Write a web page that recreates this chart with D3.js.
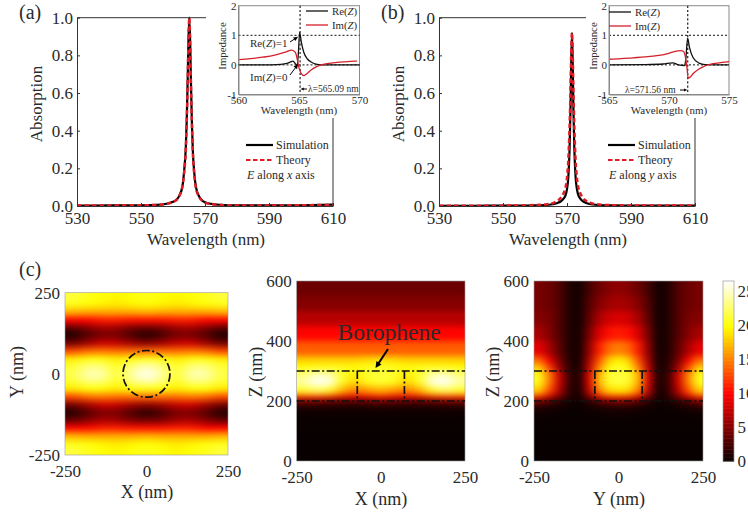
<!DOCTYPE html>
<html>
<head>
<meta charset="utf-8">
<script src="https://cdn.jsdelivr.net/npm/d3@7"></script>
<style>
  html, body { margin: 0; padding: 0; background: #fff; overflow: hidden; }
  text { font-family: "Liberation Serif", serif; fill: #2a2a2a; }
</style>
</head>
<body>
<svg id="fig" width="748" height="512"></svg>
<script>
// main absorption spectra
const wlA = [530,540,550,555,558,560,561,562,563,563.5,564,564.3,564.6,564.8,565.09,565.38,565.58,565.88,566.18,566.68,567.18,568.18,569.18,570,572,575,580,590,600,610];
const simA = [.002,.003,.004,.006,.012,.022,.032,.055,.11,.19,.31,.46,.68,.86,1,.86,.68,.46,.3,.17,.1,.05,.028,.02,.011,.006,.003,.003,.004,.007];
const theoryA = [.002,.003,.004,.006,.011,.021,.031,.054,.11,.18,.3,.45,.67,.85,1,.85,.67,.45,.29,.16,.095,.048,.027,.018,.01,.005,.003,.003,.004,.006];
const wlB = [530,540,550,555,560,563,565,566,567,568,569,569.5,570,570.4,570.8,571.1,571.3,571.56,571.8,572,572.3,572.7,573.1,573.6,574.1,575,576,577,578,580,585,590,600,610];
const simB = [.001,.001,.002,.002,.003,.005,.008,.011,.016,.024,.04,.055,.09,.15,.3,.52,.74,.92,.74,.52,.3,.15,.09,.055,.04,.024,.016,.011,.008,.005,.003,.002,.002,.002];
const theoryB = [.001,.001,.002,.003,.005,.008,.013,.018,.027,.042,.07,.095,.15,.24,.42,.62,.8,.92,.8,.62,.42,.24,.15,.095,.07,.042,.027,.018,.013,.008,.004,.003,.002,.002];

// inset impedance curves
const reWlA = [560,562,563.5,564,564.3,564.5,564.7,564.85,564.95,565.05,565.2,565.4,565.7,566,566.5,567,570];
const reZA = [0,0,.02,.05,.1,.13,.04,-.02,.4,1.1,.75,.42,.2,.1,.02,0,0];
const imWlA = [560,561,562,563,564,564.4,564.7,564.9,565,565.2,565.4,565.7,566,566.5,567,568,569,569.8];
const imZA = [.18,.21,.26,.33,.45,.5,.42,.1,-.1,-.3,-.36,-.28,-.17,-.05,.02,.08,.11,.13];
const reWlB = [565,568,569.5,570.3,570.8,571.3,571.4,571.55,571.7,572,572.5,573,575];
const reZB = [0,.01,.03,.07,0,-.02,.2,.9,.6,.25,.06,.01,0];
const imWlB = [565,566,567,568,569,570,570.5,571,571.2,571.35,571.5,571.6,571.8,572,572.5,573,573.5,574,575];
const imZB = [.19,.21,.24,.27,.31,.39,.46,.48,.46,.3,-.1,-.45,-.4,-.3,-.14,-.03,.03,.06,.11];

// |E| maps, left half of each row (the maps are mirror symmetric)
const fieldXY = [
  [21.5,20.5,20,19.5,20,20.5],
  [20.5,20,19.5,19,19.5,20],
  [17,16.5,16.5,16.5,16.5,17],
  [10,10,11,11,10.5,10.5],
  [3.5,5,6.5,6,4.5,4],
  [.8,3,4.5,4.5,2.5,1],
  [4,6,8,7.5,6,5],
  [12.5,14,14.5,14,14,14],
  [19,20,20,19,20,20.5],
  [21,23,23,20.5,23,24.5],
  [21.5,24.5,24.5,21,24,26.5]
];
const zEdges = [600,550,500,450,400,350,325,300,275,250,225,212,200,188,175,150,100,0];
const fieldXZ = [
  [4,4,4,4,4,4,4],
  [5,5,5,5,5,5,5],
  [7,7,7,7,7,7,7],
  [10,10,10,10,10,10,10],
  [13.5,13.5,13.5,13.5,13.5,13.5,13.5],
  [18,18,18,18,18,18.5,19],
  [20,20.5,20.5,20.5,20,20.5,21],
  [23,25,24.5,21,19,21,21.5],
  [24,27,26,20.5,18,20.5,21],
  [21,22.5,21,17,15,16,17],
  [14,14.5,13.5,11,10,10.5,12],
  [8,8,7,6,6,6.5,7.5],
  [2.5,2.5,2.2,2,2,2.2,2.5],
  [1,1,.9,.8,.8,.9,1],
  [.3,.3,.3,.3,.3,.3,.3],
  [.1,.1,.1,.1,.1,.1,.1],
  [0,0,0,0,0,0,0]
];
const fieldYZ = [
  [4.5,4,3,1,.4,2.5,4,5,5.5],
  [4.5,4,3,1,.4,3,5,6,6.5],
  [5,4.5,3,1,.4,3.5,6.5,8,8.5],
  [6.5,5,3,1,.4,4.5,8.5,10.5,11],
  [9,6.5,3.5,1,.4,5.5,11,14,15],
  [14,9.5,4.5,1.2,.4,6.5,13,18,19.5],
  [18,12.5,6,1.5,.5,7.5,15,20,21],
  [20.5,15,8,2,.6,8.5,17,21,21.5],
  [20.5,15,8,2,.6,8.5,17,21,21.5],
  [18,13,7,1.8,.5,7.5,15,18.5,19],
  [13,9,5,1.5,.4,5,10.5,13,13.5],
  [7.5,5,2.8,.9,.3,2.8,5.5,7.5,8],
  [3,2,1,.4,.2,1,2,3,3],
  [1.2,.8,.5,.2,.1,.5,.8,1.2,1.2],
  [.4,.3,.2,.1,.1,.2,.3,.4,.4],
  [.1,.1,.1,.1,.1,.1,.1,.1,.1],
  [0,0,0,0,0,0,0,0,0]
];
const colorTicks = [0,5,10,15,20,25];
const colorMax = 26.4;

const mirror = row => [...row, ...row.slice(0, -1).reverse()];
const hot = d3.scaleLinear()
  .domain([0, .375 * colorMax, .75 * colorMax, colorMax])
  .range(["#080000", "#ff0000", "#ffff00", "#ffffff"])
  .clamp(true);

const svg = d3.select("#fig");
const defs = svg.append("defs");
const INK = "#2a2a2a";

function addText(g, x, y, parts, size, opts = {}) {
  const t = g.append("text").attr("x", x).attr("y", y)
    .attr("font-size", size)
    .attr("text-anchor", opts.anchor || "start");
  if (opts.rotate) t.attr("transform", `rotate(-90 ${x} ${y})`);
  [].concat(parts).forEach(p => {
    if (typeof p === "string") t.append("tspan").text(p);
    else t.append("tspan").attr("font-style", "italic").text(p.i);
  });
  return t;
}

function addArrow(g, x1, y1, x2, y2, w, head) {
  const a = Math.atan2(y2 - y1, x2 - x1);
  g.append("line").attr("x1", x1).attr("y1", y1)
    .attr("x2", x2 - Math.cos(a) * head * .7).attr("y2", y2 - Math.sin(a) * head * .7)
    .attr("stroke", "#000").attr("stroke-width", w);
  const p = s => [x2 - Math.cos(a + s) * head, y2 - Math.sin(a + s) * head];
  g.append("path")
    .attr("d", `M${x2},${y2}L${p(.45)}L${p(-.45)}Z`)
    .attr("fill", "#000");
}

function styleAxis(sel, size, color) {
  sel.selectAll(".domain").attr("stroke", color);
  sel.selectAll(".tick line").attr("stroke", color);
  sel.selectAll("text").attr("font-size", size).attr("font-family", null).attr("fill", INK);
}

function spectrum(opt) {
  const g = svg.append("g");
  const x = d3.scaleLinear().domain([530, 610]).range(opt.xr);
  const y = d3.scaleLinear().domain([0, 1]).range([206, 17.7]);
  const line = xs => d3.line().x((d, i) => x(xs[i])).y(d => y(d)).curve(d3.curveMonotoneX);

  g.append("path").attr("d", line(opt.wl)(opt.sim)).attr("fill", "none")
    .attr("stroke", "#000").attr("stroke-width", 2.2);
  g.append("path").attr("d", line(opt.wl)(opt.theory)).attr("fill", "none")
    .attr("stroke", "#e01b24").attr("stroke-width", 2.5).attr("stroke-dasharray", "4.5 3");

  g.append("g").attr("transform", "translate(0,206)")
    .call(d3.axisBottom(x).tickValues([530,550,570,590,610]).tickSizeInner(-3).tickSizeOuter(0).tickPadding(6))
    .call(styleAxis, 17, "#333");
  g.append("g").attr("transform", `translate(${opt.xr[0]},0)`)
    .call(d3.axisLeft(y).tickValues([0,.2,.4,.6,.8,1]).tickFormat(d3.format(".1f")).tickSizeInner(-3).tickSizeOuter(0).tickPadding(4))
    .call(styleAxis, 17, "#333");
  g.append("line").attr("x1", opt.xr[0]).attr("x2", opt.xr[1]).attr("y1", 17.7).attr("y2", 17.7).attr("stroke", "#333");
  g.append("line").attr("x1", opt.xr[1]).attr("x2", opt.xr[1]).attr("y1", 17.7).attr("y2", 206).attr("stroke", "#333");

  addText(g, (opt.xr[0] + opt.xr[1]) / 2 + 1, 245, "Wavelength (nm)", 17, { anchor: "middle" });
  addText(g, opt.xr[0] - 35, 104, "Absorption", 17, { anchor: "middle", rotate: true });
  addText(g, opt.tagX, 19, opt.tag, 20);

  // legend
  const lx = opt.legendX;
  g.append("line").attr("x1", lx).attr("x2", lx + 27).attr("y1", 145).attr("y2", 145)
    .attr("stroke", "#000").attr("stroke-width", 2.2);
  g.append("line").attr("x1", lx).attr("x2", lx + 27).attr("y1", 160).attr("y2", 160)
    .attr("stroke", "#e01b24").attr("stroke-width", 2.2).attr("stroke-dasharray", "4.5 2.5");
  addText(g, lx + 30, 149, "Simulation", 12);
  addText(g, lx + 30, 164, "Theory", 12);
  addText(g, lx + 1, 179, [{ i: "E" }, " along ", { i: opt.axisName }, " axis"], 12);

  // inset
  g.append("rect").attr("x", opt.maskX).attr("y", 0).attr("width", opt.maskW).attr("height", 118).attr("fill", "#fff");
  const ins = g.append("g");
  const ix = d3.scaleLinear().domain(opt.inDomain).range(opt.inX);
  const iy = d3.scaleLinear().domain([-1, 2]).range([94.5, 5.7]);
  const iline = xs => d3.line().x((d, i) => ix(xs[i])).y(d => iy(d)).curve(d3.curveMonotoneX);

  ins.append("rect").attr("x", opt.inX[0]).attr("y", 5.7).attr("width", opt.inX[1] - opt.inX[0]).attr("height", 88.8)
    .attr("fill", "none").attr("stroke", "#8a8a8a");
  [0, 1].forEach(v => ins.append("line").attr("x1", opt.inX[0]).attr("x2", opt.inX[1]).attr("y1", iy(v)).attr("y2", iy(v))
    .attr("stroke", "#111").attr("stroke-dasharray", "2 2"));
  ins.append("line").attr("x1", ix(opt.res)).attr("x2", ix(opt.res)).attr("y1", 5.7).attr("y2", 94.5)
    .attr("stroke", "#222").attr("stroke-width", 1.2).attr("stroke-dasharray", "2.2 2");
  ins.append("path").attr("d", iline(opt.reWl)(opt.re)).attr("fill", "none").attr("stroke", "#111").attr("stroke-width", 1.3);
  ins.append("path").attr("d", iline(opt.imWl)(opt.im)).attr("fill", "none").attr("stroke", "#d4202a").attr("stroke-width", 1.3);

  ins.append("g").attr("transform", "translate(0,94.5)")
    .call(d3.axisBottom(ix).tickValues(opt.inTicks).tickSizeInner(0).tickSizeOuter(0).tickPadding(2))
    .call(styleAxis, 11, "#8a8a8a");
  ins.append("g").attr("transform", `translate(${opt.inX[0]},0)`)
    .call(d3.axisLeft(iy).tickValues([-1,0,1,2]).tickFormat(String).tickSizeInner(0).tickSizeOuter(0).tickPadding(2))
    .call(styleAxis, 11, "#8a8a8a");
  addText(ins, (opt.inX[0] + opt.inX[1]) / 2, 114, "Wavelength (nm)", 11, { anchor: "middle" });
  addText(ins, opt.inX[0] - 12.5, 46, "Impedance", 10.8, { anchor: "middle", rotate: true });

  const k = opt.keyX;
  ins.append("line").attr("x1", k).attr("x2", k + 22).attr("y1", opt.keyY[0]).attr("y2", opt.keyY[0]).attr("stroke", "#111").attr("stroke-width", 1.3);
  ins.append("line").attr("x1", k).attr("x2", k + 22).attr("y1", opt.keyY[1]).attr("y2", opt.keyY[1]).attr("stroke", "#d4202a").attr("stroke-width", 1.3);
  addText(ins, k + 26, opt.keyY[0] + 3.5, ["Re(", { i: "Z" }, ")"], 10.8);
  addText(ins, k + 26, opt.keyY[1] + 3.5, ["Im(", { i: "Z" }, ")"], 10.8);
  opt.notes(ins, ix, iy);
}

spectrum({
  xr: [77, 333], wl: wlA, sim: simA, theory: theoryA, tag: "(a)", tagX: 19, legendX: 246, axisName: "x",
  maskX: 206, maskW: 160, inDomain: [560, 570], inX: [238.5, 359.5], inTicks: [560, 565, 570], res: 565.09,
  reWl: reWlA, re: reZA, imWl: imWlA, im: imZA, keyX: 306, keyY: [11, 25],
  notes: (g, ix, iy) => {
    addText(g, 250, 47, ["Re(", { i: "Z" }, ")=1"], 11);
    addText(g, 250, 81, ["Im(", { i: "Z" }, ")=0"], 11);
    addArrow(g, 290, 42, ix(565) - 1, iy(.95), 1, 5);
    addArrow(g, 290, 75, ix(565) - 1, iy(.02), 1, 5);
    addArrow(g, 307, 89, ix(565.09) + .5, 89, 1, 3.5);
    addText(g, 308, 92, "λ=565.09 nm", 9.5);
  }
});

spectrum({
  xr: [439, 695], wl: wlB, sim: simB, theory: theoryB, tag: "(b)", tagX: 381, legendX: 608, axisName: "y",
  maskX: 586, maskW: 150, inDomain: [565, 575], inX: [609, 729], inTicks: [565, 570, 575], res: 571.56,
  reWl: reWlB, re: reZB, imWl: imWlB, im: imZB, keyX: 609, keyY: [12, 26],
  notes: (g, ix) => {
    addText(g, 625, 93, "λ=571.56 nm", 9.5);
    addArrow(g, 680, 90, ix(571.56) - .5, 90, 1, 3.5);
  }
});

// heat map panels
function heatmap(id, rows, xr, yr, xDomain, yDomain, yEdges) {
  const g = svg.append("g");
  const x = d3.scaleLinear().domain(xDomain).range(xr);
  const y = d3.scaleLinear().domain(yDomain).range(yr);
  const n = rows[0].length;
  const xEdges = d3.range(n + 1).map(i => xDomain[0] + (xDomain[1] - xDomain[0]) * i / n);
  const cw = (xr[1] - xr[0]) / n;

  const filter = defs.append("filter").attr("id", "soft" + id)
    .attr("filterUnits", "userSpaceOnUse")
    .attr("x", xr[0] - 30).attr("y", yr[1] - 30)
    .attr("width", xr[1] - xr[0] + 60).attr("height", yr[0] - yr[1] + 60)
    .attr("color-interpolation-filters", "sRGB");
  filter.append("feGaussianBlur").attr("stdDeviation", `${cw * .45} ${yEdges ? 3 : 3.2}`);
  filter.append("feComponentTransfer").append("feFuncA").attr("type", "linear").attr("slope", 60);
  defs.append("clipPath").attr("id", "clip" + id).append("rect")
    .attr("x", xr[0]).attr("y", yr[1]).attr("width", xr[1] - xr[0]).attr("height", yr[0] - yr[1]);

  const yLines = yEdges || d3.range(rows.length + 1).map(i => yDomain[1] + (yDomain[0] - yDomain[1]) * i / rows.length);
  const cells = rows.flatMap((row, j) => row.map((v, i) => ({ v, i, j })));
  g.append("g").attr("clip-path", `url(#clip${id})`)
    .append("g").attr("filter", `url(#soft${id})`)
    .selectAll("rect").data(cells).join("rect")
    .attr("x", d => x(xEdges[d.i]))
    .attr("y", d => y(yLines[d.j]))
    .attr("width", d => x(xEdges[d.i + 1]) - x(xEdges[d.i]) + .5)
    .attr("height", d => y(yLines[d.j + 1]) - y(yLines[d.j]) + .5)
    .attr("fill", d => hot(d.v))
    .attr("shape-rendering", "crispEdges");

  g.append("rect").attr("x", xr[0]).attr("y", yr[1]).attr("width", xr[1] - xr[0]).attr("height", yr[0] - yr[1])
    .attr("fill", "none").attr("stroke", "#999").attr("stroke-width", .6);
  return { g, x, y };
}

function mapAxes(p, yTicks, xLabel, yLabel, xBase, labelX, labelBase, yLabelX, yLabelY) {
  const [x0] = p.x.range();
  const [y0] = p.y.range();
  p.g.append("g").attr("transform", `translate(0,${y0})`)
    .call(d3.axisBottom(p.x).tickValues([-250, 0, 250]).tickFormat(String).tickSize(0).tickPadding(xBase - 12))
    .call(styleAxis, 17, "none");
  p.g.append("g").attr("transform", `translate(${x0},0)`)
    .call(d3.axisLeft(p.y).tickValues(yTicks).tickFormat(String).tickSize(0).tickPadding(5))
    .call(styleAxis, 17, "none");
  addText(p.g, labelX, labelBase, xLabel, 18, { anchor: "middle" });
  addText(p.g, yLabelX, yLabelY, yLabel, 18, { anchor: "middle", rotate: true });
}

function slabLines(p) {
  const dash = "8 2.5 2 2.5";
  const [x0, x1] = p.x.range();
  [300, 200].forEach(z => p.g.append("line").attr("x1", x0).attr("x2", x1).attr("y1", p.y(z)).attr("y2", p.y(z))
    .attr("stroke", "#111").attr("stroke-width", 1.7).attr("stroke-dasharray", dash));
  [-70, 70].forEach(v => p.g.append("line").attr("x1", p.x(v)).attr("x2", p.x(v)).attr("y1", p.y(300)).attr("y2", p.y(200))
    .attr("stroke", "#111").attr("stroke-width", 1.7).attr("stroke-dasharray", dash));
}

const rowsXY = [...fieldXY, ...fieldXY.slice(0, -1).reverse()].map(mirror);
const pXY = heatmap("XY", rowsXY, [65, 228], [455, 292.7], [-250, 250], [-250, 250]);
mapAxes(pXY, [-250, 0, 250], "X (nm)", "Y (nm)", 22, 147, 498, 23, 372);
pXY.g.append("ellipse").attr("cx", pXY.x(0)).attr("cy", pXY.y(0))
  .attr("rx", pXY.x(72) - pXY.x(0)).attr("ry", pXY.y(0) - pXY.y(72))
  .attr("fill", "none").attr("stroke", "#111").attr("stroke-width", 1.7).attr("stroke-dasharray", "8 2.5 2 2.5");
addText(pXY.g, 19, 276, "(c)", 20);

const pXZ = heatmap("XZ", fieldXZ.map(mirror), [296.7, 465], [461, 281], [-250, 250], [0, 600], zEdges);
mapAxes(pXZ, [0, 200, 400, 600], "X (nm)", "Z (nm)", 22, 381, 505, 262, 372);
slabLines(pXZ);
addText(pXZ.g, 337.5, 340, "Borophene", 23.5);
addArrow(pXZ.g, 388, 349, 375.5, 368, 2, 7);

const pYZ = heatmap("YZ", fieldYZ.map(mirror), [534, 703], [461, 281], [-250, 250], [0, 600], zEdges);
mapAxes(pYZ, [0, 200, 400, 600], "Y (nm)", "Z (nm)", 22, 619, 505, 499, 372);
slabLines(pYZ);

// colour bar, its labels run off the right edge as in the original figure
const barY = d3.scaleLinear().domain([0, colorMax]).range([461.5, 281]);
const bar = svg.append("g");
bar.selectAll("rect").data(d3.range(0, colorMax, .2)).join("rect")
  .attr("x", 723).attr("width", 11)
  .attr("y", d => barY(d + .2))
  .attr("height", d => barY(d) - barY(d + .2) + .5)
  .attr("fill", d => hot(d + .1));
bar.append("rect").attr("x", 723).attr("y", 281).attr("width", 11).attr("height", 180.5)
  .attr("fill", "none").attr("stroke", "#999").attr("stroke-width", .7);
bar.append("g").attr("transform", "translate(734,0)")
  .call(d3.axisRight(barY).tickValues(colorTicks).tickSize(0).tickPadding(3.5))
  .call(styleAxis, 17, "none");
</script>
</body>
</html>
